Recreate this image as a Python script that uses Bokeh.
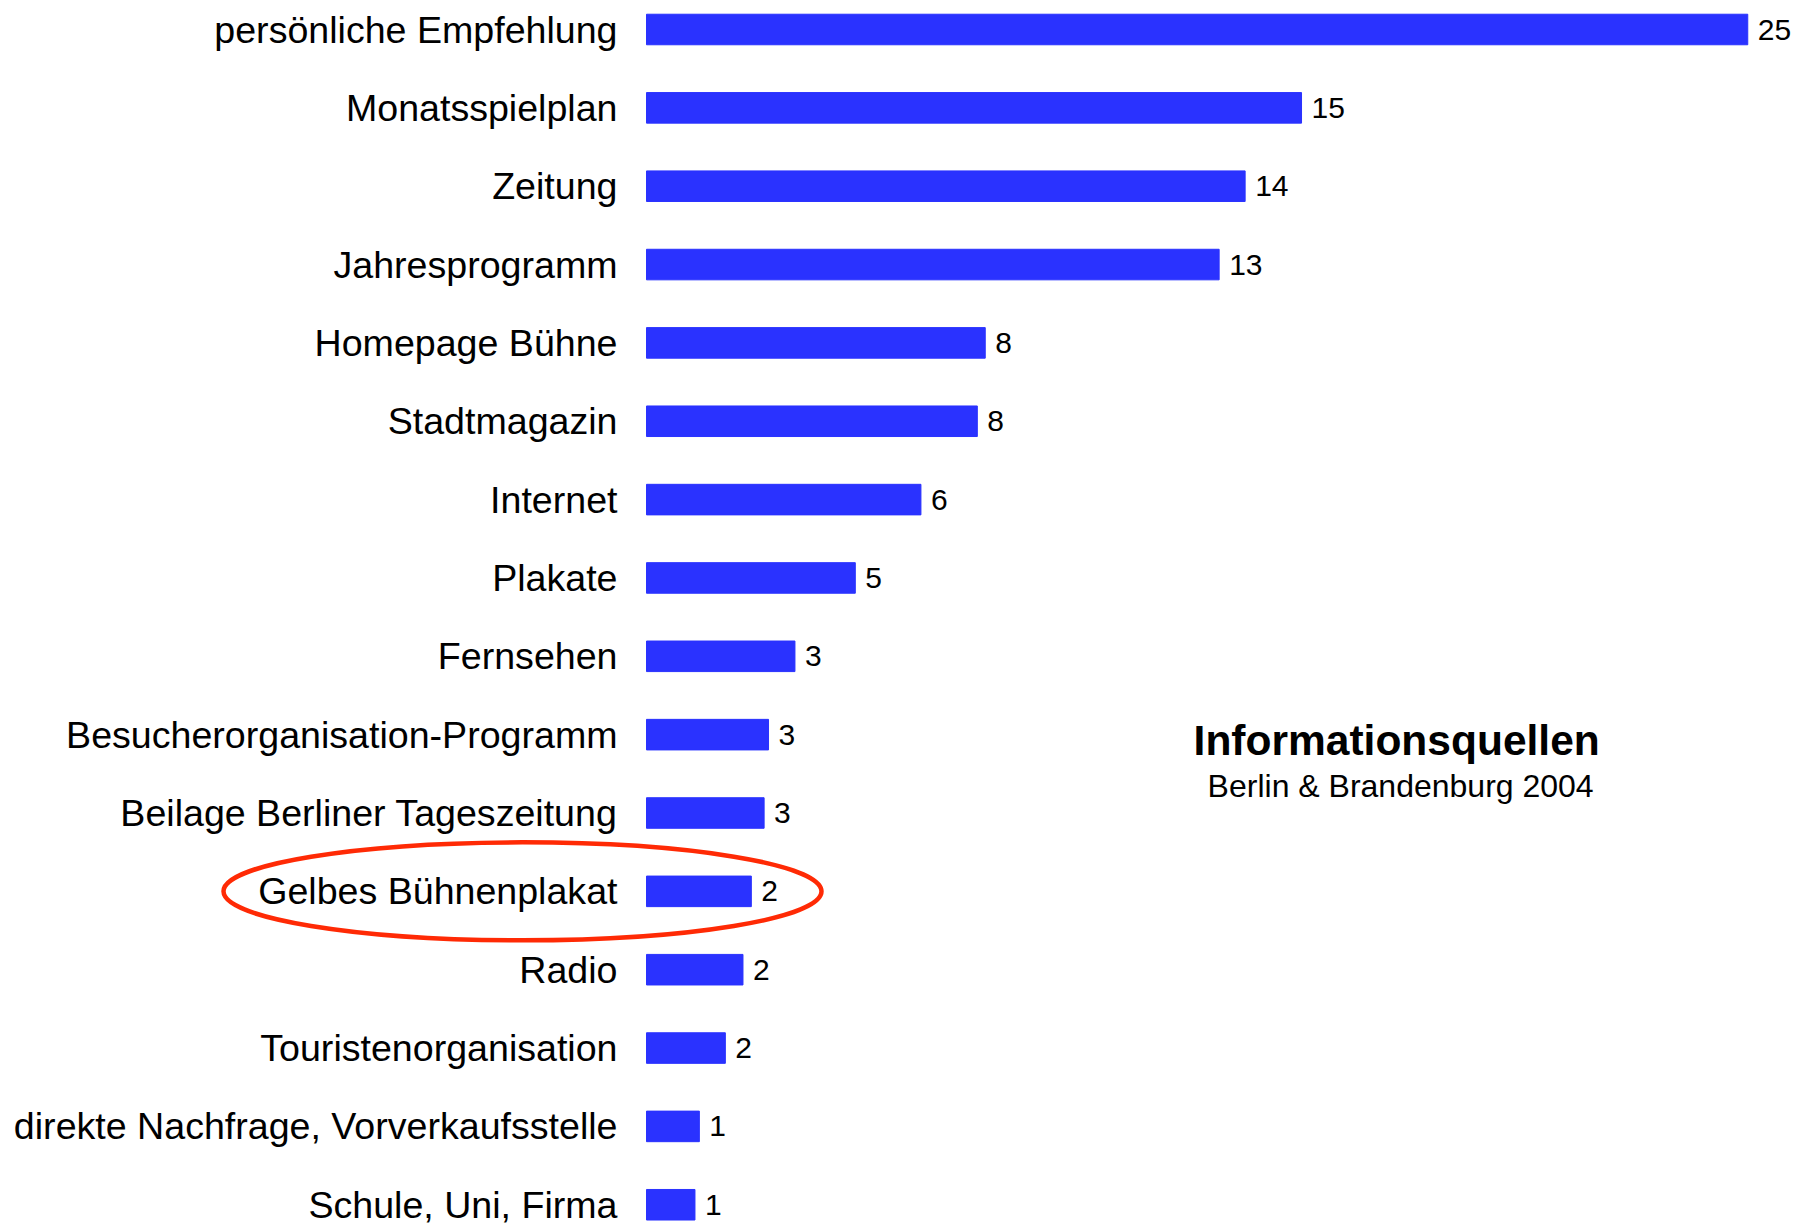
from bokeh.plotting import figure
from bokeh.models import Range1d
from bokeh.core.properties import value
from bokeh.embed import file_html
from bokeh.resources import INLINE

# ---- data (top to bottom) ----
categories = [
    "persönliche Empfehlung", "Monatsspielplan", "Zeitung", "Jahresprogramm",
    "Homepage Bühne", "Stadtmagazin", "Internet", "Plakate", "Fernsehen",
    "Besucherorganisation-Programm", "Beilage Berliner Tageszeitung",
    "Gelbes Bühnenplakat", "Radio", "Touristenorganisation",
    "direkte Nachfrage, Vorverkaufsstelle", "Schule, Uni, Firma",
]
values = [25.0, 14.87, 13.59, 13.0, 7.69, 7.51, 6.23, 4.74, 3.37,
          2.77, 2.67, 2.38, 2.19, 1.79, 1.20, 1.10]
value_labels = [f"{v:.0f}" for v in values]
highlight = "Gelbes Bühnenplakat"
title_text = "Informationsquellen"
subtitle_text = "Berlin & Brandenburg 2004"

rows = list(range(len(categories)))
FONT = "Liberation Sans"

W, H = 1792, 1227
PX_X = 44.05   # pixels per value unit
X0 = 646       # pixel of value 0
PX_Y = 78.35   # pixels per row
Y0 = 29        # pixel of first row centre

p = figure(width=W, height=H, output_backend="svg", toolbar_location=None,
           x_range=Range1d(-X0 / PX_X, (W - X0) / PX_X),
           y_range=Range1d((H - Y0) / PX_Y, -Y0 / PX_Y),
           min_border=0, min_border_left=0, min_border_right=0,
           min_border_top=0, min_border_bottom=0)
p.axis.visible = False
p.grid.visible = False
p.outline_line_color = None
p.background_fill_color = "white"
p.border_fill_color = "white"

p.hbar(y=rows, left=0, right=values, height=0.39,
       fill_color="#2A32FF", line_color="#2A32FF", line_width=1)

p.text(x=[0] * len(rows), y=rows, text=categories, x_offset=-29,
       text_align="right", text_baseline="middle",
       text_font=value(FONT), text_font_size="37.6px", text_color="#000000")

p.text(x=values, y=rows, text=value_labels, x_offset=10,
       text_align="left", text_baseline="middle",
       text_font=value(FONT), text_font_size="30px", text_color="#000000")

hi = categories.index(highlight)
p.ellipse(x=[-2.815], y=[hi], width=598, height=98,
          width_units="screen", height_units="screen",
          fill_color=None, line_color="#FF2A05", line_width=4.5)

p.text(x=[17.03], y=[9.08], text=[title_text], text_align="center",
       text_baseline="middle", text_font=value(FONT),
       text_font_size="42.5px", text_font_style="bold", text_color="#000000")
p.text(x=[17.12], y=[9.65], text=[subtitle_text], text_align="center",
       text_baseline="middle", text_font=value(FONT),
       text_font_size="32px", text_color="#000000")

open("out.html", "w").write(file_html(p, INLINE))
